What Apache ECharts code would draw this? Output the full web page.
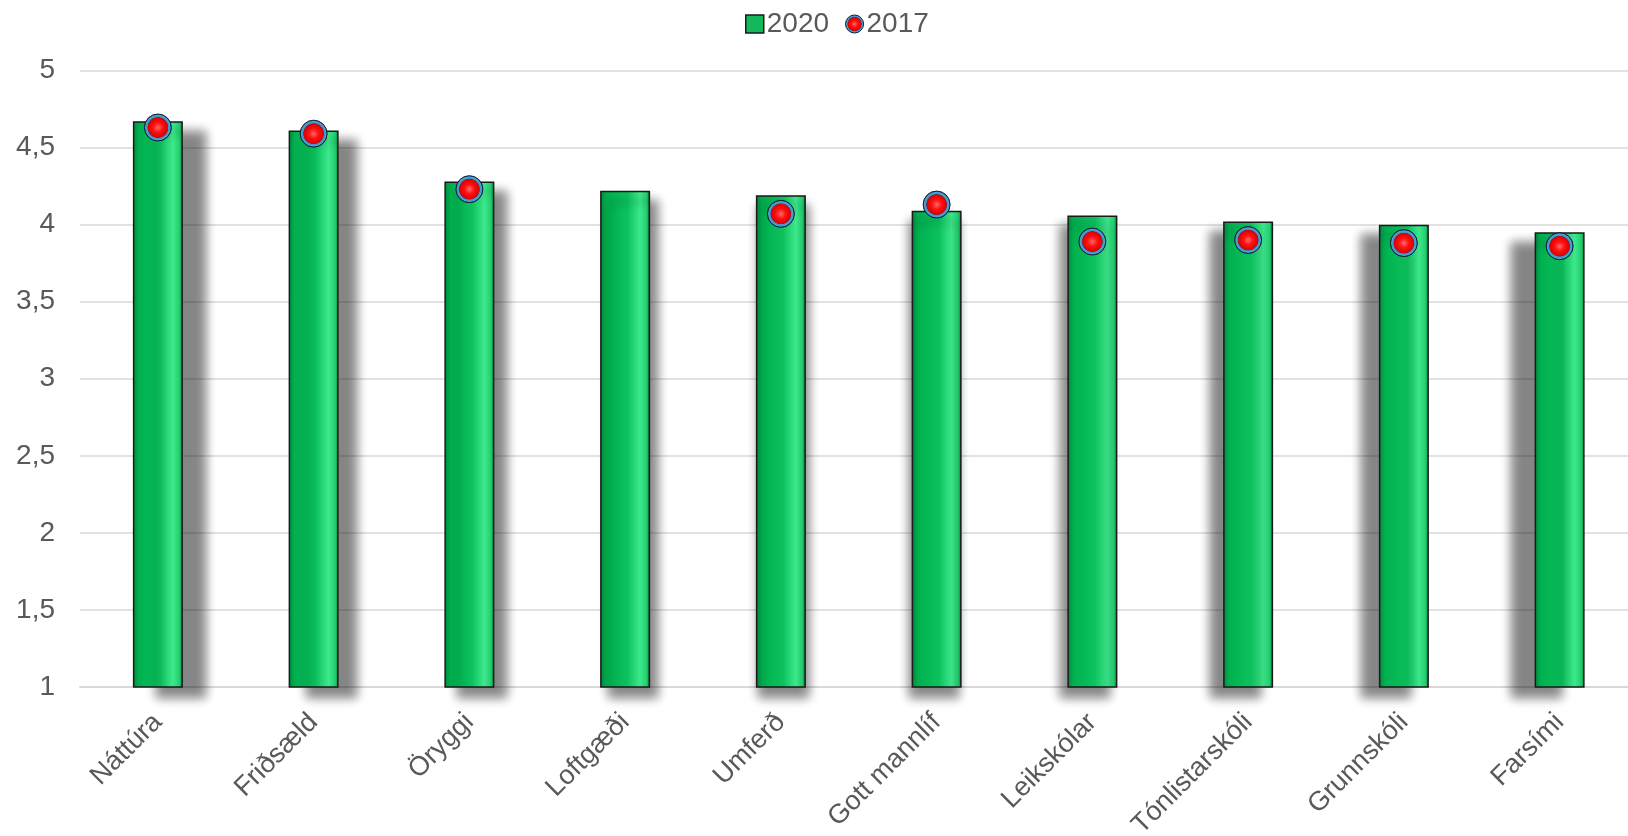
<!DOCTYPE html>
<html>
<head>
<meta charset="utf-8">
<script src="https://cdn.jsdelivr.net/npm/echarts@6/dist/echarts.min.js"></script>
<style>html,body{margin:0;padding:0;background:#fff}#c{width:1628px;height:836px}</style>
</head>
<body>
<div id="c"></div>
<script>
const categories = ['Náttúra','Friðsæld','Öryggi','Loftgæði','Umferð','Gott mannlíf','Leikskólar','Tónlistarskóli','Grunnskóli','Farsími'];
const values2020 = [4.67, 4.61, 4.28, 4.22, 4.19, 4.09, 4.06, 4.02, 4.00, 3.95];
const values2017 = [4.63, 4.59, 4.23, null, 4.07, 4.13, 3.89, 3.90, 3.88, 3.86];
const yTicks = { min: 1, max: 5, interval: 0.5 };

const chart = echarts.init(document.getElementById('c'), null, { renderer: 'canvas' });
const font = "'Liberation Sans', Arial, sans-serif";

const barFill = new echarts.graphic.LinearGradient(0, 0, 1, 0, [
  { offset: 0, color: '#008a3e' },
  { offset: 0.12, color: '#00b04f' },
  { offset: 0.55, color: '#0cc25e' },
  { offset: 0.8, color: '#3ee88c' },
  { offset: 0.93, color: '#22d070' },
  { offset: 1, color: '#0a7a3a' }
]);

const dotFill = new echarts.graphic.RadialGradient(0.5, 0.5, 0.5, [
  { offset: 0, color: '#ff6a6a' },
  { offset: 0.35, color: '#ff1010' },
  { offset: 0.68, color: '#e20000' },
  { offset: 0.72, color: '#7a2a3a' },
  { offset: 0.76, color: '#3f95c8' },
  { offset: 0.88, color: '#4aa3d4' },
  { offset: 0.93, color: '#2c6f9a' },
  { offset: 1, color: '#0f2233' }
]);

const barData = values2020.map((v, i) => ({
  value: v,
  itemStyle: {
    shadowColor: 'rgba(0,0,0,0.48)',
    shadowBlur: 10,
    shadowOffsetX: 23 - i * 5.1,
    shadowOffsetY: 10
  }
}));

chart.setOption({
  backgroundColor: '#ffffff',
  animation: false,
  textStyle: { fontFamily: font },
  legend: {
    top: 5,
    left: 740,
    itemGap: 16,
    itemWidth: 18,
    itemHeight: 18,
    textStyle: { fontSize: 28, color: '#595959', fontFamily: font, padding: [0, 0, 0, -2] },
    data: [
      { name: '2020', icon: 'rect', itemStyle: { color: '#12b85a', borderColor: '#1a1a1a', borderWidth: 1.5 } },
      { name: '2017', icon: 'circle', itemStyle: { color: dotFill, borderColor: '#0f2233', borderWidth: 1 } }
    ]
  },
  grid: { left: 80, right: -9.5, top: 70.5, bottom: 149, containLabel: false, outerBoundsMode: 'none' },
  xAxis: {
    type: 'category',
    data: categories,
    axisLine: { show: true, lineStyle: { color: '#d9d9d9', width: 2 } },
    axisTick: { show: false },
    axisLabel: {
      rotate: 45,
      interval: 0,
      margin: 31,
      fontSize: 27,
      color: '#595959',
      fontFamily: font
    }
  },
  yAxis: {
    type: 'value',
    min: yTicks.min,
    max: yTicks.max,
    interval: yTicks.interval,
    axisLine: { show: false },
    axisTick: { show: false },
    splitLine: { lineStyle: { color: '#d9d9d9', width: 1.5 } },
    axisLabel: {
      margin: 25,
      fontSize: 28,
      color: '#595959',
      fontFamily: font,
      formatter: v => String(v).replace('.', ',')
    }
  },
  series: [
    {
      name: '2020',
      type: 'bar',
      barWidth: 50,
      data: barData,
      itemStyle: { color: barFill, borderColor: '#1a1a1a', borderWidth: 1.5 },
      z: 2
    },
    {
      name: '2017',
      type: 'scatter',
      symbol: 'circle',
      symbolSize: 27,
      data: values2017,
      itemStyle: { color: dotFill, borderColor: '#0f2233', borderWidth: 1, opacity: 1 },
      z: 3
    }
  ]
});
</script>
</body>
</html>
